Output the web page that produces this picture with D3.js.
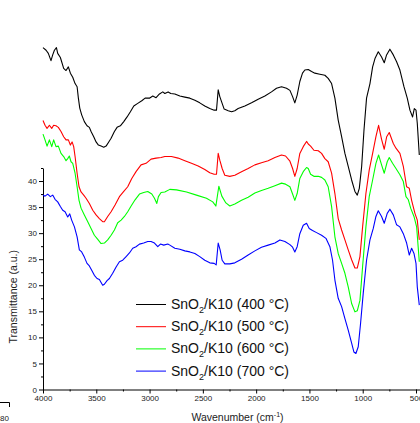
<!DOCTYPE html>
<html>
<head>
<meta charset="utf-8">
<script src="https://cdn.jsdelivr.net/npm/d3@7"></script>
<style>
body { margin: 0; background: #fff; }
svg { display: block; font-family: "Liberation Sans", Arial, sans-serif; }
</style>
</head>
<body>
<script>
// tick values
var xTicks = [4000, 3500, 3000, 2500, 2000, 1500, 1000, 500];
var xMinorTicks = [3750, 3250, 2750, 2250, 1750, 1250, 750];
var yTicks = [0, 5, 10, 15, 20, 25, 30, 35, 40];
var yMinorTicks = [2.5, 7.5, 12.5, 17.5, 22.5, 27.5, 32.5, 37.5, 42.5];

// legend
var seriesLabels = ['400 °C', '500 °C', '600 °C', '700 °C'];
var seriesColors = ['#000000', '#ff0000', '#00ff00', '#0000ff'];

// spectra: [wavenumber, transmittance]
var spectrum400 = [
	[4000,65.6],[3971,65.1],[3950,64.5],[3925,63.1],[3909,64.2],[3893,65.1],[3874,65.6],[3862,64.5],[3837,63.7],
	[3806,61.6],[3784,61.2],[3762,61.9],[3743,60.7],[3721,59.9],[3699,58.7],[3680,58.1],[3668,55.9],[3655,54.0],
	[3637,52.7],[3612,51.4],[3587,50.6],[3565,50.3],[3549,49.5],[3524,48.5],[3502,47.5],[3480,46.9],[3455,46.7],
	[3430,46.5],[3408,46.7],[3386,47.4],[3361,48.2],[3330,49.5],[3305,50.3],[3274,50.6],[3242,51.4],[3211,52.3],
	[3180,53.3],[3148,54.4],[3111,54.9],[3073,55.4],[3042,55.9],[3001,55.9],[2970,56.3],[2939,56.0],[2907,56.7],
	[2876,57.1],[2857,56.8],[2826,57.1],[2801,56.8],[2763,56.7],[2716,56.3],[2669,56.1],[2622,55.9],[2575,55.5],
	[2529,55.0],[2482,54.4],[2435,53.9],[2394,53.6],[2372,53.6],[2356,57.5],[2341,56.2],[2319,54.9],[2300,53.8],
	[2262,53.5],[2231,53.3],[2200,53.5],[2169,53.9],[2106,54.4],[2043,55.0],[1981,55.7],[1918,56.3],[1856,57.1],
	[1809,57.8],[1762,58.1],[1715,57.8],[1683,57.4],[1658,56.2],[1637,55.0],[1615,56.5],[1590,59.1],[1565,60.7],
	[1543,61.3],[1511,61.4],[1480,61.0],[1449,60.7],[1402,60.5],[1355,60.3],[1324,59.7],[1292,58.7],[1261,55.9],
	[1230,51.7],[1198,48.5],[1167,45.3],[1136,42.8],[1104,40.2],[1073,38.0],[1051,37.3],[1032,38.6],[1010,42.8],
	[988,49.8],[964,55.9],[932,58.7],[907,61.9],[885,63.5],[854,64.8],[823,63.8],[798,62.7],[776,64.2],[745,65.3],
	[713,64.2],[682,62.9],[651,61.3],[613,58.1],[582,55.9],[557,53.6],[532,52.3],[516,53.9],[500,53.6],[488,51.1],
	[469,45.0]
];
var spectrum500 = [
	[4000,51.6],[3981,50.7],[3962,50.1],[3940,50.7],[3918,50.1],[3900,50.7],[3878,50.6],[3856,50.3],[3831,49.5],
	[3806,48.5],[3784,47.9],[3762,47.9],[3743,46.9],[3727,47.5],[3712,46.6],[3699,44.7],[3680,41.5],[3662,38.9],
	[3643,37.9],[3618,37.3],[3596,36.7],[3565,35.7],[3533,34.4],[3502,33.5],[3471,32.8],[3440,32.2],[3424,32.2],
	[3393,33.2],[3361,34.1],[3324,35.4],[3283,37.0],[3242,38.0],[3205,38.9],[3167,40.5],[3127,41.8],[3080,43.1],
	[3033,43.4],[2986,44.2],[2939,44.4],[2892,44.5],[2857,44.7],[2795,44.7],[2732,44.4],[2669,43.9],[2607,43.4],
	[2544,42.9],[2482,42.2],[2435,41.6],[2394,41.3],[2372,41.3],[2356,45.3],[2341,44.0],[2319,42.4],[2294,41.1],
	[2247,40.9],[2200,41.1],[2137,41.8],[2075,42.4],[2012,43.1],[1950,43.5],[1887,43.9],[1824,44.5],[1762,45.0],
	[1724,44.8],[1683,43.8],[1658,42.4],[1637,40.9],[1615,42.4],[1590,45.3],[1558,46.6],[1527,47.6],[1511,47.1],
	[1489,46.7],[1458,45.9],[1417,45.8],[1386,45.3],[1355,44.3],[1324,43.7],[1292,41.5],[1261,37.6],[1230,32.8],
	[1198,30.6],[1167,28.7],[1136,26.8],[1104,24.9],[1073,23.3],[1051,23.3],[1026,25.5],[1001,31.2],[970,37.6],
	[939,42.1],[907,45.3],[876,48.5],[851,50.7],[823,48.0],[798,46.1],[775,48.5],[751,49.3],[713,47.2],[688,46.3],
	[651,45.3],[619,42.8],[588,38.9],[563,38.6],[541,36.3],[510,33.8],[488,32.5],[469,28.7]
];
var spectrum600 = [
	[4000,49.0],[3981,47.9],[3962,46.7],[3940,47.9],[3918,46.6],[3900,47.9],[3878,46.6],[3856,46.7],[3831,45.3],
	[3806,44.7],[3784,43.9],[3768,44.3],[3753,44.8],[3737,43.7],[3721,43.4],[3699,41.5],[3680,38.9],[3662,36.3],
	[3643,34.8],[3612,33.5],[3580,32.2],[3549,30.9],[3518,29.6],[3486,28.8],[3455,28.0],[3424,28.1],[3393,28.7],
	[3361,29.6],[3330,30.6],[3299,32.0],[3267,32.5],[3236,33.2],[3205,34.1],[3173,35.2],[3136,36.4],[3095,37.5],
	[3055,37.8],[3017,38.0],[2979,37.5],[2954,36.7],[2932,35.7],[2917,37.0],[2892,37.8],[2857,37.9],[2810,38.4],
	[2747,38.3],[2653,37.9],[2560,37.3],[2466,36.7],[2407,36.0],[2378,35.2],[2350,39.0],[2322,37.1],[2284,35.8],
	[2247,35.2],[2200,35.6],[2137,36.3],[2075,36.9],[2012,37.7],[1950,38.2],[1887,38.6],[1824,39.1],[1762,39.6],
	[1724,39.4],[1683,38.9],[1658,37.5],[1637,36.3],[1615,37.6],[1590,40.5],[1558,41.8],[1527,42.6],[1511,42.4],
	[1489,41.3],[1458,40.9],[1417,40.9],[1386,40.7],[1355,40.2],[1324,38.9],[1292,35.1],[1261,29.3],[1230,26.1],
	[1198,24.2],[1167,22.3],[1136,19.7],[1104,16.5],[1073,14.9],[1051,15.1],[1026,17.1],[1001,23.6],[970,31.2],
	[939,37.0],[907,40.2],[876,43.4],[851,45.0],[823,43.1],[798,41.5],[770,43.7],[751,44.5],[720,43.4],[688,42.4],
	[651,41.2],[619,39.9],[594,37.0],[572,36.4],[550,34.8],[519,33.2],[494,31.2],[469,24.5]
];
var spectrum700 = [
	[4000,37.3],[3981,37.1],[3956,37.5],[3931,37.0],[3909,37.3],[3887,36.5],[3862,36.0],[3837,35.1],[3815,34.4],
	[3793,34.1],[3768,33.1],[3749,33.7],[3731,32.5],[3705,31.2],[3680,29.3],[3659,26.8],[3637,26.4],[3612,25.4],
	[3587,24.2],[3565,23.7],[3543,22.9],[3518,21.9],[3493,21.3],[3471,21.1],[3440,20.0],[3424,20.2],[3399,20.9],
	[3377,21.3],[3346,22.3],[3314,23.5],[3283,24.5],[3252,24.8],[3220,25.5],[3189,26.2],[3158,27.1],[3127,27.4],
	[3095,27.9],[3055,28.1],[3017,28.4],[2986,28.4],[2954,28.1],[2923,27.4],[2898,27.9],[2867,27.7],[2829,27.9],
	[2810,27.7],[2763,27.1],[2716,26.9],[2669,26.6],[2622,26.4],[2575,26.1],[2529,25.5],[2482,24.8],[2435,24.3],
	[2394,24.2],[2375,23.9],[2356,28.1],[2338,26.8],[2319,24.8],[2294,24.1],[2247,24.1],[2200,24.3],[2137,25.0],
	[2075,25.8],[2012,26.6],[1950,27.3],[1887,27.7],[1824,28.1],[1777,28.7],[1730,28.4],[1683,27.8],[1658,27.3],
	[1637,26.4],[1615,27.4],[1590,29.9],[1558,31.5],[1527,31.9],[1502,30.9],[1471,30.5],[1433,30.1],[1386,29.6],
	[1345,29.0],[1308,27.4],[1283,24.8],[1261,21.0],[1230,17.5],[1198,15.9],[1167,13.6],[1136,11.4],[1104,8.9],
	[1083,7.2],[1064,6.9],[1042,8.2],[1020,12.7],[995,18.5],[964,24.8],[932,28.7],[901,30.9],[876,33.2],[854,34.3],
	[823,33.2],[798,31.9],[770,33.8],[745,34.6],[713,33.5],[682,31.6],[651,31.2],[619,29.9],[588,28.1],[563,25.8],
	[541,27.1],[519,26.1],[500,24.2],[488,19.7],[469,16.2]
];
var spectra = [spectrum400, spectrum500, spectrum600, spectrum700];

function MyFtirChart() {
	this.chart = {};
	this.props = {};
	this.props.margin = { top: 168, right: 4, bottom: 33.5, left: 43 };
	this.props.width = 420 - this.props.margin.left - this.props.margin.right;
	this.props.height = 423 - this.props.margin.top - this.props.margin.bottom;
}

MyFtirChart.prototype.createChart = function() {
	var root = d3.select('body').append('svg')
		.attr('width', 420)
		.attr('height', 423);
	this.chart.root = root;
	this.chart.svg = root.append('g')
		.attr('transform', 'translate(' + this.props.margin.left + ',' + this.props.margin.top + ')');
	this.chart.x = d3.scaleLinear().domain([4000, 500]).range([0, this.props.width]);
	this.chart.y = d3.scaleLinear().domain([0, 42.5]).range([this.props.height, 0]);
}

MyFtirChart.prototype.addYAxis = function() {
	var minor = d3.axisLeft(this.chart.y).tickValues(yMinorTicks).tickSize(2).tickFormat('');
	var major = d3.axisLeft(this.chart.y).tickValues(yTicks).tickSize(4).tickSizeOuter(0).tickPadding(2)
		.tickFormat(d3.format('d'));
	this.chart.svg.append('g').attr('class', 'y minor').call(minor).select('.domain').remove();
	var g = this.chart.svg.append('g').attr('class', 'y axis').call(major);
	g.selectAll('text').style('font-size', '8px').attr('fill', '#222');

	this.chart.svg.append('text')
		.attr('transform', 'translate(-26,' + (this.props.height / 2 + 18) + ') rotate(-90)')
		.style('text-anchor', 'middle')
		.style('font-size', '10.5px')
		.attr('fill', '#222')
		.text('Transmittance (a.u.)');
}

MyFtirChart.prototype.addXAxis = function() {
	var h = this.props.height;
	var minor = d3.axisBottom(this.chart.x).tickValues(xMinorTicks).tickSize(2).tickFormat('');
	var major = d3.axisBottom(this.chart.x).tickValues(xTicks).tickSize(4).tickSizeOuter(0).tickPadding(2)
		.tickFormat(d3.format('d'));
	this.chart.svg.append('g').attr('transform', 'translate(0,' + h + ')').call(minor).select('.domain').remove();
	var g = this.chart.svg.append('g').attr('class', 'x axis').attr('transform', 'translate(0,' + h + ')').call(major);
	g.selectAll('text').style('font-size', '8px').attr('fill', '#222');
	// axis line runs on to the right edge
	g.append('line').attr('x1', this.props.width).attr('x2', this.props.width + 10)
		.attr('y1', 0.5).attr('y2', 0.5).attr('stroke', '#000');

	var label = this.chart.svg.append('text')
		.attr('x', this.props.width / 2 + 8)
		.attr('y', h + 31)
		.style('text-anchor', 'middle')
		.style('font-size', '10.5px')
		.attr('fill', '#222');
	label.append('tspan').text('Wavenumber (cm');
	label.append('tspan').attr('dy', -4).style('font-size', '7px').text('-1');
	label.append('tspan').attr('dy', 4).text(')');
}

MyFtirChart.prototype.addLines = function() {
	var self = this;
	var line = d3.line()
		.x(function(d) { return self.chart.x(d[0]); })
		.y(function(d) { return self.chart.y(d[1]); });
	this.chart.svg.selectAll('.spectrum')
		.data(spectra)
		.enter().append('path')
			.attr('class', 'spectrum')
			.attr('fill', 'none')
			.attr('stroke', function(d, i) { return seriesColors[i]; })
			.attr('stroke-width', 1.1)
			.attr('stroke-linejoin', 'round')
			.attr('d', line);
}

MyFtirChart.prototype.addLegend = function() {
	var legend = this.chart.root.append('g').attr('class', 'legend');
	var rows = legend.selectAll('g')
		.data(seriesLabels)
		.enter().append('g')
			.attr('transform', function(d, i) { return 'translate(136,' + (304 + i * 22.2) + ')'; });
	rows.append('line')
		.attr('x1', 0).attr('x2', 30).attr('y1', 0.5).attr('y2', 0.5)
		.attr('stroke', function(d, i) { return seriesColors[i]; })
		.attr('stroke-width', 1);
	var t = rows.append('text')
		.attr('x', 35)
		.attr('y', 5)
		.style('font-size', '14px')
		.attr('fill', '#111');
	t.append('tspan').text('SnO');
	t.append('tspan').attr('dy', 4).style('font-size', '9px').text('2');
	t.append('tspan').attr('dy', -4).text(function(d) { return '/K10 (' + d + ')'; });
}

MyFtirChart.prototype.addLeftovers = function() {
	// edge of the neighbouring panel, cut by the crop
	this.chart.root.append('path')
		.attr('d', 'M0,402.5H9.5V407')
		.attr('fill', 'none')
		.attr('stroke', '#000');
	this.chart.root.append('text')
		.attr('x', 9).attr('y', 421)
		.style('text-anchor', 'end')
		.style('font-size', '8px')
		.attr('fill', '#222')
		.text('80');
}

var chart = new MyFtirChart();
chart.createChart();
chart.addYAxis();
chart.addXAxis();
chart.addLines();
chart.addLegend();
chart.addLeftovers();
</script>
</body>
</html>
